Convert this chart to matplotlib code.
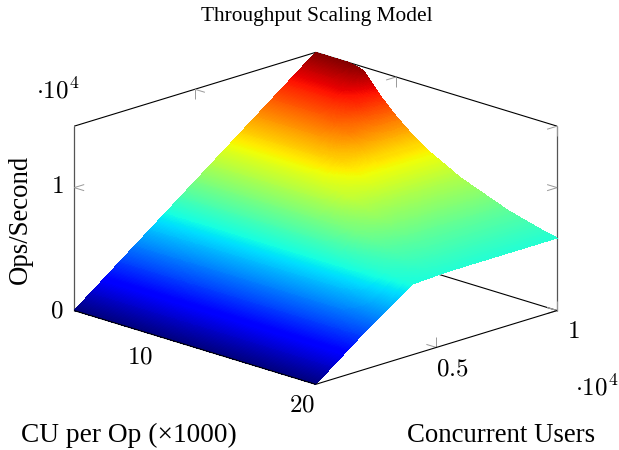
import matplotlib
matplotlib.use("Agg")
import matplotlib.pyplot as plt
import numpy as np

plt.rcParams['font.family'] = ['Liberation Serif', 'DejaVu Serif']
plt.rcParams['mathtext.fontset'] = 'cm'

W, H = 619, 450

# CU per op (x1000)
cu_per_op = [5, 6, 7, 7.5, 8, 9, 10, 11, 12, 13, 14, 15, 16, 17, 18, 19, 20]
# concurrent users
users = [0, 1000, 2000, 3000, 4000, 5000, 6000, 7000, 8000, 9000, 10000]
# ops/second (x10^4), one row per users value
ops = [
    [0.00] * 17,
    [0.15] * 17,
    [0.30] * 17,
    [0.45, 0.45, 0.45, 0.45, 0.45, 0.45, 0.45, 0.45, 0.45, 0.45, 0.45, 0.45, 0.45, 0.45, 0.45, 0.445, 0.44],
    [0.60, 0.60, 0.60, 0.60, 0.60, 0.60, 0.60, 0.60, 0.60, 0.60, 0.60, 0.60, 0.60, 0.60, 0.595, 0.585, 0.575],
    [0.75, 0.75, 0.75, 0.75, 0.75, 0.75, 0.75, 0.75, 0.75, 0.75, 0.75, 0.74, 0.71, 0.675, 0.645, 0.615, 0.585],
    [0.90, 0.90, 0.90, 0.90, 0.90, 0.90, 0.90, 0.90, 0.90, 0.885, 0.835, 0.79, 0.74, 0.69, 0.655, 0.62, 0.59],
    [1.05, 1.05, 1.05, 1.05, 1.05, 1.05, 1.05, 1.035, 0.975, 0.91, 0.84, 0.79, 0.74, 0.69, 0.655, 0.62, 0.59],
    [1.20, 1.20, 1.20, 1.20, 1.20, 1.20, 1.165, 1.07, 0.98, 0.91, 0.84, 0.79, 0.74, 0.69, 0.655, 0.62, 0.59],
    [1.35, 1.35, 1.35, 1.35, 1.35, 1.30, 1.18, 1.07, 0.98, 0.91, 0.84, 0.79, 0.74, 0.69, 0.655, 0.62, 0.59],
    [1.50, 1.50, 1.50, 1.49, 1.47, 1.31, 1.18, 1.07, 0.98, 0.91, 0.84, 0.79, 0.74, 0.69, 0.655, 0.62, 0.59],
]

x_ticks = [10, 20]
y_ticks = [5000, 10000]
z_ticks = [0, 1]

x_min, x_max = 5, 20
y_min, y_max = 0, 10000
z_min, z_max = 0, 1.5

fig = plt.figure(figsize=(W / 100, H / 100), dpi=100)
S = 440
cx, cy = 309.7, 224.3
ax = fig.add_axes([(cx - S / 2) / W, 1 - (cy + S / 2) / H, S / W, S / H], projection='3d')
ax.set_proj_type('ortho')
ax.view_init(elev=17.8, azim=-45)
ax.set_box_aspect((1, 1, 0.567), zoom=1.148)
ax.set_xlim(x_min, x_max, view_margin=0)
ax.set_ylim(y_min, y_max, view_margin=0)
ax.set_zlim(z_min, z_max, view_margin=0)
ax.set_axis_off()
ax.computed_zorder = False

# split each cell of the table so the colour runs smoothly, like shader=interp
table = np.array(ops)
fine_x = np.linspace(x_min, x_max, 241)
fine_y = np.linspace(y_min, y_max, 241)
by_x = np.array([np.interp(fine_x, cu_per_op, row) for row in table])
fine_z = np.array([np.interp(fine_y, users, col) for col in by_x.T]).T
X, Y = np.meshgrid(fine_x, fine_y)
colors = plt.cm.jet(np.clip(fine_z / z_max, 0, 1))

LINE = dict(color='black', lw=0.8, solid_capstyle='butt', clip_on=False)
EDGE = dict(color='#555555', lw=0.9, solid_capstyle='butt', clip_on=False)
TICK = dict(color='#999999', lw=0.7, solid_capstyle='butt', clip_on=False)


def seg(a, b, style, z=1):
    ax.plot([a[0], b[0]], [a[1], b[1]], [a[2], b[2]], zorder=z, **style)


# back lines go under the surface
seg((x_min, y_min, z_min), (x_min, y_max, z_min), LINE)
seg((x_min, y_max, z_min), (x_max, y_max, z_min), LINE)
seg((x_min, y_min, z_max), (x_min, y_max, z_max), LINE)
seg((x_min, y_max, z_max), (x_max, y_max, z_max), LINE)
seg((x_min, y_min, z_min), (x_min, y_min, z_max), EDGE)
seg((x_max, y_max, z_min), (x_max, y_max, z_max), EDGE)

dx, dy, dz = 0.62, 415, 0.081
for xt in x_ticks:
    seg((xt, y_max, z_max), (xt, y_max - dy, z_max), TICK)
    seg((xt, y_max, z_max), (xt, y_max, z_max - dz), TICK)
for yt in y_ticks:
    seg((x_min, yt, z_max), (x_min + dx, yt, z_max), TICK)
    seg((x_min, yt, z_max), (x_min, yt, z_max - dz), TICK)
    seg((x_max, yt, z_min), (x_max - dx, yt, z_min), TICK)
    seg((x_max, yt, z_min), (x_max, yt, z_min + dz), TICK)
for zt in z_ticks:
    seg((x_min, y_min, zt), (x_min + dx, y_min, zt), TICK)
    seg((x_min, y_min, zt), (x_min, y_min + dy, zt), TICK)
    seg((x_max, y_max, zt), (x_max - dx, y_max, zt), TICK)
    seg((x_max, y_max, zt), (x_max, y_max - dy, zt), TICK)

surf = ax.plot_surface(X, Y, fine_z, facecolors=colors, rcount=241, ccount=241,
                       shade=False, antialiased=False, linewidth=0, zorder=2)
surf.set_clip_on(False)

# front floor edges sit on top of the surface
seg((x_min, y_min, z_min), (x_max, y_min, z_min), LINE, z=3)
seg((x_max, y_min, z_min), (x_max, y_max, z_min), LINE, z=3)


def put(px, py, s, size, **kw):
    fig.text(px / W, 1 - py / H, s, fontsize=size, ha='center', va='center', **kw)


put(317, 16.5, 'Throughput Scaling Model', 15.4)
put(129, 435, 'CU per Op (×1000)', 19.7)
put(501, 435, 'Concurrent Users', 19.3)
put(20, 219, 'Ops/Second', 19.3, rotation=90)
put(58, 91, r'$\cdot 10^4$', 18)
put(57, 311, r'$0$', 18)
put(57, 187, r'$1$', 18)
put(140, 357, r'$10$', 18)
put(302, 405, r'$20$', 18)
put(452, 370, r'$0.5$', 18)
put(573, 332, r'$1$', 18)
put(597, 388, r'$\cdot 10^4$', 18)

fig.savefig('out.png', dpi=100)
